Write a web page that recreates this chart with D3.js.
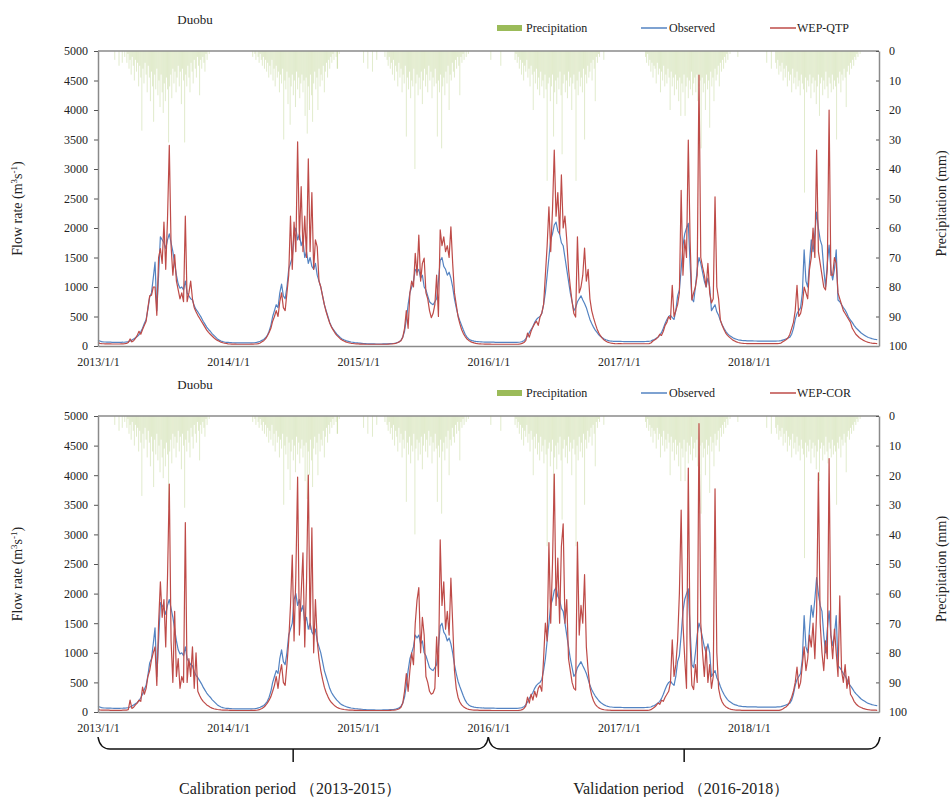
<!DOCTYPE html>
<html><head><meta charset="utf-8">
<script src="https://cdn.jsdelivr.net/npm/d3@7"></script>
<style>body{margin:0;background:#fff} svg text{font-family:'Liberation Serif','Times New Roman',serif}</style>
</head><body><svg id="chart" width="951" height="797"></svg>
<script>
// ---------------- DATA ----------------
const years = [2013, 2014, 2015, 2016, 2017, 2018];
const flowStepDays = 5;          // flow samples: every 5 days, 73 per year
const samplesPerYear = 73;

const observed = [
  // 2013
  95,85,75,70,68,66,65,64,63,62, 62,62,62,63,64,66,70,75,85,100, 120,140,160,190,240,300,380,450,620,830,
  900,1150,1420,600,1200,1850,1800,1750,1650,1800, 1900,1750,1600,1400,1200,1050,980,1000,950,1100,
  900,850,800,780,680,620,580,530,480,420, 370,320,280,250,210,180,150,120,100,85, 75,68,62,
  // 2014
  60,58,56,55,54,53,52,52,52,52, 52,52,53,54,55,58,62,70,80,95, 110,140,180,250,350,500,600,700,650,900,
  1050,850,800,1000,1300,1400,1500,1900,2000,1800, 1900,1700,1800,1500,1600,1400,1500,1350,1300,1400,
  1200,1100,1000,850,700,600,500,400,330,280, 240,200,170,140,120,105,92,82,75,68, 63,58,55,
  // 2015
  52,50,46,42,40,38,37,36,35,35, 34,34,34,34,35,35,36,38,40,42, 45,50,60,70,100,150,250,450,700,900,
  1000,1100,1300,1250,1300,1150,1200,1000,950,850, 750,720,700,750,800,1100,1450,1500,1350,1300,
  1200,1250,1150,1000,800,650,520,430,350,270, 200,150,120,100,90,82,78,75,72,70, 68,67,66,
  // 2016
  66,65,65,64,63,62,62,62,62,62, 62,62,62,62,62,62,62,64,68,75, 90,120,170,230,280,330,400,450,480,500,
  550,700,900,1200,1500,1800,1900,2050,2100,1950, 1900,1750,1700,1500,1300,1100,900,750,600,650,
  750,800,850,780,720,650,550,450,380,320, 270,230,190,160,140,120,105,95,88,84, 80,78,77,
  // 2017
  80,78,76,75,75,75,75,75,75,75, 75,75,75,75,75,76,78,80,85,100, 110,130,150,180,230,300,380,450,500,520,
  480,450,600,850,950,1300,1700,1900,2000,2080, 1400,800,750,1000,1300,1500,1400,1250,1100,1000,
  1150,1000,600,650,700,580,520,430,360,300, 250,210,180,160,140,125,115,105,100,95, 92,90,88,
  // 2018
  88,87,86,85,85,84,84,84,84,84, 84,84,84,84,84,84,85,86,90,100, 110,120,135,150,200,300,450,550,600,650,
  900,1630,1100,1000,1400,1800,1600,1900,2270,2000, 1800,1700,1300,1000,1400,1710,1300,1120,1300,1630,
  780,750,700,650,610,550,480,440,400,350, 310,280,250,220,200,180,160,145,135,125, 118,112,108
];

const wepQTP = [
  // 2013
  60,45,40,38,37,36,35,35,34,34, 34,34,34,35,36,40,45,60,120,70, 90,130,180,250,200,280,350,420,650,850,
  860,1000,1000,520,1500,1650,1400,2100,1300,2150, 3400,1700,1200,1550,1100,950,800,900,750,2200,
  750,900,1100,800,650,580,520,470,420,370, 320,270,230,200,170,140,115,95,80,65, 55,48,42,
  // 2014
  36,34,33,32,31,30,30,30,30,30, 30,30,30,31,32,34,36,40,50,70, 90,120,170,230,300,420,500,600,500,750,
  900,650,600,900,1200,2200,1300,2100,1600,3460, 1800,2700,1600,2200,1500,3170,1600,2600,1300,1800,
  1680,1100,1000,850,700,580,480,390,320,270, 220,180,150,120,100,85,70,60,52,46, 42,38,36,
  // 2015
  35,33,32,31,30,30,30,30,30,30, 30,30,30,30,30,30,30,32,34,36, 40,45,55,70,90,150,300,600,300,900,
  1100,1000,1570,1200,1880,1100,1400,1490,900,800, 600,480,550,700,1200,500,1970,1700,1850,1600,
  1700,1500,2020,1400,900,700,500,380,280,210, 160,120,95,75,62,52,45,40,37,35, 34,33,32,
  // 2016
  32,31,30,30,30,30,30,30,30,30, 30,30,30,30,30,30,30,32,36,45, 60,90,220,150,250,320,380,420,350,490,
  560,700,1200,1700,2360,1600,2300,3320,2200,2600, 1900,2900,2000,2200,1800,1300,1000,750,550,490,
  1850,900,1000,1200,1660,1100,1300,800,600,480, 380,290,220,170,130,100,80,65,55,48, 43,40,38,
  // 2017
  40,39,38,38,38,38,38,38,38,38, 38,38,38,38,38,38,38,40,50,80, 100,120,150,200,180,250,350,400,500,450,
  1030,500,600,700,900,2640,1200,1800,1500,3490, 1800,780,900,1000,1200,4590,1500,1340,1200,1000,
  1400,900,730,800,2530,1000,800,440,350,280, 220,180,150,125,100,85,70,60,52,47, 44,42,40,
  // 2018
  41,40,40,40,40,40,40,40,40,40, 40,40,40,40,40,40,40,42,50,70, 90,110,140,200,300,400,600,1030,500,550,
  700,1000,900,800,1300,1500,2000,1500,3320,1600, 1400,1200,1000,950,1300,4000,1200,1200,1500,1400,
  900,800,700,600,550,500,450,400,300,250, 200,170,140,120,100,85,72,62,55,50, 46,43,41
];

const wepCOR = [
  // 2013
  45,35,32,31,30,30,30,29,29,29, 29,29,29,29,30,31,33,40,200,60, 80,120,150,200,180,420,300,400,600,700,
  880,1000,1100,450,1500,2200,1600,1900,1100,2270, 3850,1200,500,1700,600,900,400,600,500,3200,
  500,900,600,1100,400,1000,350,280,220,180, 150,120,100,80,65,55,48,42,38,35, 33,32,31,
  // 2014
  30,28,27,26,25,25,25,25,25,25, 25,25,25,26,27,28,30,35,45,60, 80,110,150,200,260,350,450,600,400,650,
  800,500,450,800,1200,1800,2650,1200,2300,3970, 1300,2000,2690,1100,2200,4000,1400,3110,1000,1900,
  1200,900,700,550,420,330,260,200,160,130, 100,80,65,55,48,42,38,35,33,31, 30,29,28,
  // 2015
  27,26,26,25,25,25,25,25,25,25, 25,25,25,25,25,25,25,26,28,30, 32,36,42,55,80,150,350,650,350,700,
  1000,800,1500,1890,2100,1000,1600,1300,600,500, 350,300,320,400,1270,600,2910,1800,2200,1400,
  1700,1300,2260,1500,700,400,250,170,120,90, 70,55,45,40,36,33,31,30,29,28, 28,27,27,
  // 2016
  27,26,25,25,25,25,25,25,25,25, 25,25,25,25,25,25,25,27,30,40, 60,100,250,150,300,200,350,250,400,450,
  350,900,1500,1200,2860,1500,2500,4020,1800,2600, 1500,2800,3180,1500,1900,900,700,500,400,370,
  2870,1300,1800,1500,2320,1100,700,420,280,190, 130,95,70,55,45,38,34,32,30,29, 28,28,27,
  // 2017
  28,27,27,27,27,27,27,27,27,27, 27,27,27,27,27,27,27,30,40,60, 80,110,150,130,200,180,250,300,350,500,
  1220,600,800,1200,2000,3410,1500,900,400,4120, 1200,450,380,800,500,4870,1500,1000,600,1100,
  500,800,400,600,3770,1000,400,250,170,120, 90,70,55,45,40,36,33,31,30,29, 28,28,27,
  // 2018
  27,26,26,26,26,26,26,26,26,26, 26,26,26,26,26,26,26,28,35,50, 70,90,120,180,250,350,500,760,400,500,
  800,1100,700,900,1300,1100,1500,900,1700,4040, 1500,1000,700,1200,900,4280,1300,900,1400,1000,
  600,1960,700,500,800,400,600,300,250,180, 140,110,90,75,62,52,45,40,36,33, 31,30,29
];

// precipitation (mm): every 3 days from day-of-year 75, 80 values per year
const precipStartDoy = 75;
const precipStepDays = 3;
const precipPerYear = 80;
const precipitation = [
  // 2013
  2,0,4,1,6,3,8,2,5,10, 3,7,4,12,5,9,27,6,11,4, 8,14,5,9,17,7,12,24,8,13, 6,15,10,19,8,14,21,11,17,9,
  13,31,12,8,16,6,11,7,14,9, 5,12,7,18,6,10,31,8,12,5, 9,14,4,7,11,3,6,9,2,5, 15,3,6,2,4,7,1,3,0,1,
  // 2014
  1,3,0,2,4,1,3,5,2,6, 3,7,4,9,5,8,3,10,6,12, 5,9,7,14,8,11,6,30,10,13, 7,18,9,25,12,8,15,10,19,7,
  13,9,16,11,8,14,10,22,9,28, 12,20,8,15,24,11,7,13,9,20, 6,12,8,10,5,14,7,4,9,3, 6,2,4,1,3,0,2,6,0,1,
  // 2015
  2,0,3,5,2,6,4,8,3,10, 5,7,12,4,9,6,14,8,11,5, 29,9,13,7,16,10,12,6,40,11, 8,15,9,13,7,18,10,6,12,8,
  14,5,10,7,16,9,12,6,11,29, 10,14,8,33,12,9,15,7,11,5, 20,8,10,4,7,9,3,6,2,5, 15,2,4,1,3,0,2,0,1,0,
  // 2016
  3,1,4,2,6,3,8,4,10,5, 7,3,9,6,12,5,8,20,7,11, 6,13,9,15,7,12,10,16,8,13, 44,11,9,17,12,8,29,14,10,18,
  9,13,7,15,35,11,8,14,10,16, 7,12,9,20,11,8,13,44,10,15, 7,12,9,14,6,30,8,11,5,9, 7,4,10,3,6,17,2,4,1,2,
  // 2017
  2,4,1,5,3,7,4,9,5,6, 11,4,8,6,14,7,10,5,12,8, 11,6,9,20,7,12,9,15,8,13, 10,17,9,22,11,14,8,22,12,9,
  16,10,13,7,15,11,9,14,8,17, 12,10,33,9,14,11,20,8,13,10, 26,7,12,9,17,6,10,8,5,12, 4,7,3,6,2,4,1,3,0,1,
  // 2018
  4,6,3,8,5,7,4,10,6,9, 5,12,7,10,8,14,6,11,9,13, 7,12,10,15,8,11,13,48,9,14, 10,12,8,16,11,9,14,10,18,12,
  8,22,11,9,15,10,13,7,12,16, 9,11,14,8,13,10,12,30,9,11, 7,14,8,10,6,9,19,7,5,8, 4,6,3,5,2,3,1,2,0,1
];
// isolated dry-season rain days
const precipExtraDates = ["2013-02-17","2013-03-01","2013-03-10","2014-03-11","2014-11-04","2015-01-16","2015-01-28","2015-02-10","2015-02-22","2016-01-08","2016-02-05","2016-11-20","2017-12-01","2018-02-20","2018-03-05"];
const precipExtraValues = [3,5,4,2,6,4,6,7,3,3,5,3,2,4,6];

const flowTicks = [0,500,1000,1500,2000,2500,3000,3500,4000,4500,5000];
const precipTicks = [0,10,20,30,40,50,60,70,80,90,100];
const xTickLabels = ["2013/1/1","2014/1/1","2015/1/1","2016/1/1","2017/1/1","2018/1/1"];
const station = "Duobu";
const modelNames = ["WEP-QTP", "WEP-COR"];
const modelSeries = [wepQTP, wepCOR];
const periodLabels = ["Calibration period （2013-2015）", "Validation period （2016-2018）"];

// ---------------- DRAW ----------------
const svg = d3.select("#chart");
const serif = "'Liberation Serif','Times New Roman',serif";
const C = {obs:"#5383c2", model:"#be4b48", precip:"#9bbb59", precipBar:"#a9c76e", axis:"#8a8a8a", text:"#222"};
const X0 = 98, X1 = 879;
const panelBoxes = [{top:51, bottom:346}, {top:416, bottom:712}];

const x = d3.scaleUtc()
  .domain([new Date(Date.UTC(2013,0,1)), new Date(Date.UTC(2019,0,1))])
  .range([X0, X1]);

const flowDate = i => new Date(Date.UTC(years[Math.floor(i/samplesPerYear)], 0, 1 + (i%samplesPerYear)*flowStepDays));
const precipData = [];
precipitation.forEach((v,i) => {
  if (v <= 0) return;
  const yr = years[Math.floor(i/precipPerYear)];
  precipData.push({date: new Date(Date.UTC(yr,0,1 + precipStartDoy + (i%precipPerYear)*precipStepDays)), mm: v});
});
precipExtraDates.forEach((d,i) => precipData.push({date: new Date(d+"T00:00:00Z"), mm: precipExtraValues[i]}));

panelBoxes.forEach((box, pi) => {
  const {top, bottom} = box;
  const y = d3.scaleLinear().domain([0,5000]).range([bottom, top]);
  const yp = d3.scaleLinear().domain([0,100]).range([top, bottom]);
  const g = svg.append("g");

  // precipitation bars hanging from the top
  g.append("g").selectAll("rect").data(precipData).join("rect")
    .attr("x", d => x(d.date) - 0.5).attr("y", top)
    .attr("width", 1).attr("height", d => yp(d.mm) - top)
    .attr("fill", C.precipBar).attr("opacity", 0.35);

  const line = d3.line().x((d,i) => x(flowDate(i))).y(d => y(d));
  g.append("path").datum(observed).attr("d", line)
    .attr("fill","none").attr("stroke", C.obs).attr("stroke-width", 1.2).attr("stroke-linejoin","round");
  g.append("path").datum(modelSeries[pi]).attr("d", line)
    .attr("fill","none").attr("stroke", C.model).attr("stroke-width", 1.2).attr("stroke-linejoin","round");

  // top border
  g.append("line").attr("x1", X0).attr("x2", X1).attr("y1", top).attr("y2", top)
    .attr("stroke", C.axis).attr("stroke-width", 1.5);

  // left axis
  const ya = g.append("g").attr("transform", `translate(${X0},0)`)
    .call(d3.axisLeft(y).tickValues(flowTicks).tickFormat(d3.format("d")).tickSize(4).tickSizeOuter(0).tickPadding(6));
  // right axis
  const ra = g.append("g").attr("transform", `translate(${X1},0)`)
    .call(d3.axisRight(yp).tickValues(precipTicks).tickFormat(d3.format("d")).tickSizeInner(-3).tickSizeOuter(0).tickPadding(10));
  // bottom axis
  const xa = g.append("g").attr("transform", `translate(0,${bottom})`)
    .call(d3.axisBottom(x).tickValues(years.map(yr => new Date(Date.UTC(yr,0,1))))
      .tickFormat((d,i) => xTickLabels[i]).tickSize(0).tickPadding(11));
  [ya, ra, xa].forEach(a => {
    a.attr("font-family", serif).attr("font-size", 12);
    a.select(".domain").attr("stroke", C.axis).attr("stroke-width", 1.5);
    a.selectAll(".tick line").attr("stroke", "#555");
    a.selectAll("text").attr("font-family", serif).attr("font-size", 12).attr("fill", C.text);
  });

  // station name
  g.append("text").attr("x", 195).attr("y", top - 27).attr("text-anchor","middle")
    .attr("font-family", serif).attr("font-size", 13).attr("fill", C.text).text(station);

  // legend
  const ly = top - 23;
  g.append("rect").attr("x", 497).attr("y", ly - 3).attr("width", 25).attr("height", 6).attr("fill", C.precip);
  g.append("text").attr("x", 526).attr("y", ly + 4).attr("font-family", serif).attr("font-size", 12).attr("fill", C.text).text("Precipitation");
  g.append("line").attr("x1", 641).attr("x2", 667).attr("y1", ly).attr("y2", ly).attr("stroke", C.obs).attr("stroke-width", 1.5);
  g.append("text").attr("x", 669).attr("y", ly + 4).attr("font-family", serif).attr("font-size", 12).attr("fill", C.text).text("Observed");
  g.append("line").attr("x1", 770).attr("x2", 796).attr("y1", ly).attr("y2", ly).attr("stroke", C.model).attr("stroke-width", 1.5);
  g.append("text").attr("x", 797).attr("y", ly + 4).attr("font-family", serif).attr("font-size", 12).attr("fill", C.text).text(modelNames[pi]);

  // left title
  const mid = (top + bottom) / 2;
  const lt = g.append("text").attr("transform", `translate(22,${mid + 10}) rotate(-90)`)
    .attr("text-anchor","middle").attr("font-family", serif).attr("font-size", 14).attr("fill", C.text);
  lt.append("tspan").text("Flow rate (m");
  lt.append("tspan").attr("font-size", 9).attr("dy", -5).text("3");
  lt.append("tspan").attr("dy", 5).text("s");
  lt.append("tspan").attr("font-size", 9).attr("dy", -5).text("-1");
  lt.append("tspan").attr("dy", 5).text(")");
  // right title
  g.append("text").attr("transform", `translate(946,${mid + 5}) rotate(-90)`)
    .attr("text-anchor","middle").attr("font-family", serif).attr("font-size", 14).attr("fill", C.text)
    .text("Precipitation (mm)");
});

// braces for the periods
const mid2016 = x(new Date(Date.UTC(2016,0,1)));
const braceY = 749, endY = 737;
const braces = [[X0, mid2016], [mid2016, X1 + 1]];
braces.forEach(([a, b], i) => {
  svg.append("path")
    .attr("d", `M${a},${endY} Q${a+2},${braceY} ${a+12},${braceY} L${b-12},${braceY} Q${b-2},${braceY} ${b},${endY}`)
    .attr("fill","none").attr("stroke","#111").attr("stroke-width",1.5);
  const c = (a + b) / 2;
  svg.append("line").attr("x1", c).attr("x2", c).attr("y1", braceY).attr("y2", braceY + 13)
    .attr("stroke","#111").attr("stroke-width",1.5);
  svg.append("text").attr("x", c - 3).attr("y", 794).attr("text-anchor","middle")
    .attr("font-family", serif).attr("font-size", 16).attr("fill", C.text).text(periodLabels[i]);
});
</script>
</body></html>
